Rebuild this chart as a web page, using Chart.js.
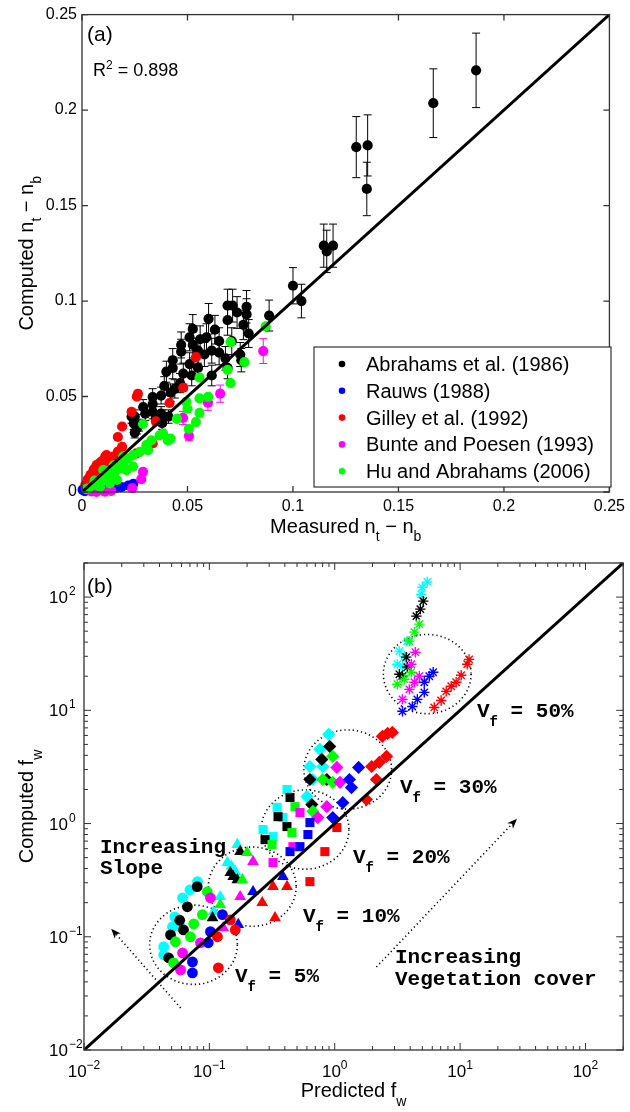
<!DOCTYPE html>
<html>
<head>
<meta charset="utf-8">
<script src="https://cdn.jsdelivr.net/npm/chart.js@4/dist/chart.umd.min.js"></script>
<style>
  html, body { margin: 0; padding: 0; background: #fff; }
  #wrap { position: relative; width: 630px; height: 1112px; }
  canvas { position: absolute; left: 0; }
  #chartA { top: 0; }
  #chartB { top: 545px; }
</style>
</head>
<body>
<div id="wrap">
  <canvas id="chartA" width="630" height="545"></canvas>
  <canvas id="chartB" width="630" height="567"></canvas>
</div>
<script>
// ---------- panel (a): computed vs measured n_t - n_b ----------
const abrahams = [ // [measured, computed, error]
  [0.1868, 0.2208, 0.0195], [0.1665, 0.2036, 0.0180], [0.1354, 0.1815, 0.0160],
  [0.1300, 0.1806, 0.0160], [0.1350, 0.1587, 0.0140], [0.1190, 0.1290, 0.0113],
  [0.1160, 0.1260, 0.0111], [0.1146, 0.1290, 0.0113], [0.1040, 0.1000, 0.0088],
  [0.1000, 0.1080, 0.0095], [0.0887, 0.0924, 0.0081], [0.0690, 0.0976, 0.0086],
  [0.0714, 0.0976, 0.0086], [0.0780, 0.0970, 0.0085], [0.0780, 0.0930, 0.0082],
  [0.0735, 0.0940, 0.0083], [0.0690, 0.0900, 0.0079], [0.0600, 0.0907, 0.0080],
  [0.0630, 0.0850, 0.0075], [0.0590, 0.0810, 0.0071], [0.0650, 0.0790, 0.0070],
  [0.0710, 0.0790, 0.0070], [0.0790, 0.0830, 0.0073], [0.0765, 0.0875, 0.0077],
  [0.0525, 0.0854, 0.0075], [0.0510, 0.0810, 0.0071], [0.0560, 0.0800, 0.0070],
  [0.0525, 0.0770, 0.0068], [0.0550, 0.0740, 0.0065], [0.0580, 0.0720, 0.0063],
  [0.0615, 0.0740, 0.0065], [0.0650, 0.0730, 0.0064], [0.0680, 0.0700, 0.0062],
  [0.0750, 0.0720, 0.0063], [0.0755, 0.0690, 0.0061], [0.0690, 0.0650, 0.0057],
  [0.0615, 0.0610, 0.0054], [0.0510, 0.0670, 0.0059], [0.0480, 0.0620, 0.0055],
  [0.0520, 0.0610, 0.0054], [0.0550, 0.0650, 0.0057], [0.0470, 0.0770, 0.0068],
  [0.0470, 0.0735, 0.0065], [0.0430, 0.0690, 0.0061], [0.0430, 0.0650, 0.0057],
  [0.0400, 0.0630, 0.0055], [0.0465, 0.0570, 0.0050], [0.0440, 0.0540, 0.0048],
  [0.0390, 0.0555, 0.0049], [0.0420, 0.0520, 0.0046], [0.0375, 0.0505, 0.0044],
  [0.0335, 0.0497, 0.0044], [0.0335, 0.0460, 0.0040], [0.0290, 0.0445, 0.0039],
  [0.0300, 0.0410, 0.0036], [0.0335, 0.0420, 0.0037], [0.0350, 0.0385, 0.0034],
  [0.0380, 0.0360, 0.0032], [0.0380, 0.0395, 0.0035], [0.0250, 0.0395, 0.0035],
  [0.0235, 0.0395, 0.0035], [0.0245, 0.0360, 0.0032], [0.0260, 0.0333, 0.0029],
  [0.0270, 0.0350, 0.0031], [0.0250, 0.0310, 0.0027], [0.0375, 0.0411, 0.0036],
  [0.0410, 0.0395, 0.0035]
];
const rauws = [
  [0.0243, 0.0043], [0.0219, 0.0034], [0.0187, 0.0026], [0.0163, 0.0022],
  [0.0139, 0.0017], [0.0115, 0.0014], [0.0092, 0.0012], [0.0068, 0.0010],
  [0.0045, 0.0009], [0.0014, 0.0005], [0.0007, 0.0009], [0.0003, 0.0012]
];
const gilley = [
  [0.0540, 0.0706], [0.0480, 0.0546], [0.0415, 0.0466], [0.0265, 0.0514],
  [0.0260, 0.0500], [0.0235, 0.0420], [0.0190, 0.0343], [0.0350, 0.0370],
  [0.0170, 0.0288], [0.0190, 0.0237], [0.0170, 0.0211], [0.0116, 0.0193],
  [0.0110, 0.0186], [0.0093, 0.0160], [0.0069, 0.0141], [0.0055, 0.0117],
  [0.0040, 0.0090], [0.0027, 0.0066], [0.0016, 0.0039], [0.0149, 0.0186],
  [0.0335, 0.0254], [0.0258, 0.0202], [0.0149, 0.0160], [0.0085, 0.0117],
  [0.0085, 0.0152], [0.0134, 0.0134], [0.0062, 0.0081], [0.0048, 0.0064],
  [0.0033, 0.0047], [0.0116, 0.0160], [0.0100, 0.0134], [0.0073, 0.0108]
];
const bunte = [ // [measured, computed, error]
  [0.0859, 0.0738, 0.0065], [0.0655, 0.0515, 0.0045], [0.0597, 0.0468, 0.0040],
  [0.0479, 0.0388, 0.0034], [0.0507, 0.0294, 0.0026], [0.0289, 0.0105, 0],
  [0.0281, 0.0067, 0], [0.0238, 0.0020, 0], [0.0139, 0.0006, 0],
  [0.0108, 0.0002, 0], [0.0068, 0.0001, 0], [0.0045, 0.0003, 0]
];
const huAbrahams = [
  [0.0871, 0.0867], [0.0770, 0.0680], [0.0704, 0.0785], [0.0690, 0.0640],
  [0.0704, 0.0570], [0.0557, 0.0599], [0.0598, 0.0498], [0.0557, 0.0490],
  [0.0494, 0.0472], [0.0500, 0.0436], [0.0557, 0.0414], [0.0540, 0.0366],
  [0.0506, 0.0331], [0.0420, 0.0279], [0.0407, 0.0270], [0.0384, 0.0306],
  [0.0368, 0.0297], [0.0329, 0.0270], [0.0305, 0.0245], [0.0289, 0.0356],
  [0.0274, 0.0210], [0.0242, 0.0193], [0.0218, 0.0176], [0.0195, 0.0150],
  [0.0179, 0.0124], [0.0156, 0.0106], [0.0132, 0.0089], [0.0101, 0.0071],
  [0.0077, 0.0054], [0.0054, 0.0037], [0.0031, 0.0019], [0.0165, 0.0063],
  [0.0132, 0.0045], [0.0085, 0.0028], [0.0242, 0.0133], [0.0211, 0.0115],
  [0.0313, 0.0219], [0.0195, 0.0185], [0.0101, 0.0115], [0.0450, 0.0383],
  [0.0150, 0.0140], [0.0120, 0.0110], [0.0060, 0.0060], [0.0020, 0.0015]
];
const ticksA = [0, 0.05, 0.1, 0.15, 0.2, 0.25];
const rSquared = '0.898';

// ---------- panel (b): computed vs predicted f_w ----------
// rows: [predicted, computed, slope class 0..5]
const vf5 = [
  [0.0432, 0.0817, 5], [0.0432, 0.0693, 5], [0.0508, 0.1225, 5], [0.0589, 0.1225, 5],
  [0.0611, 0.221, 5], [0.0804, 0.307, 5], [0.0700, 0.260, 5], [0.0530, 0.150, 5],
  [0.049, 0.104, 4], [0.0473, 0.0652, 4], [0.0622, 0.115, 4], [0.0668, 0.184, 4],
  [0.080, 0.277, 4], [0.0580, 0.140, 4],
  [0.0537, 0.0904, 3], [0.0518, 0.0589, 3], [0.0706, 0.100, 3], [0.0879, 0.157, 3],
  [0.0964, 0.250, 3], [0.0750, 0.130, 3],
  [0.0611, 0.0721, 2], [0.0589, 0.051, 2], [0.0849, 0.0885, 2], [0.102, 0.221, 2],
  [0.0733, 0.060, 1], [0.0733, 0.048, 1], [0.098, 0.0885, 1], [0.102, 0.111, 1], [0.127, 0.157, 1],
  [0.118, 0.0532, 0], [0.116, 0.100, 0], [0.161, 0.115, 0], [0.147, 0.141, 0]
];
const vf10 = [
  [0.167, 0.652, 5], [0.139, 0.452, 5], [0.161, 0.376, 5], [0.122, 0.226, 5], [0.108, 0.166, 5], [0.150, 0.420, 5],
  [0.176, 0.565, 4], [0.147, 0.368, 4], [0.167, 0.319, 4], [0.106, 0.147, 4], [0.155, 0.340, 4],
  [0.200, 0.553, 3], [0.183, 0.319, 3], [0.122, 0.192, 3],
  [0.223, 0.461, 2], [0.176, 0.226, 2], [0.129, 0.120, 2],
  [0.223, 0.250, 1], [0.170, 0.128, 1], [0.386, 0.340, 1],
  [0.264, 0.200, 0], [0.334, 0.147, 0], [0.416, 0.277, 0], [0.322, 0.277, 0]
];
const vf20 = [
  [0.416, 2.00, 5], [0.347, 1.39, 5], [0.386, 1.13, 5], [0.268, 0.885, 5], [0.322, 0.767, 5],
  [0.440, 1.70, 4], [0.353, 1.15, 4], [0.416, 0.94, 4], [0.278, 0.721, 4],
  [0.482, 1.41, 3], [0.456, 0.832, 3], [0.316, 0.652, 3],
  [0.528, 1.25, 2], [0.464, 0.625, 2], [0.322, 0.452, 2],
  [0.634, 1.02, 1], [0.611, 0.80, 1], [0.528, 0.625, 1], [0.440, 0.565, 1],
  [0.834, 0.565, 0], [1.04, 0.922, 0], [0.634, 0.307, 0]
];
const vf30 = [
  [0.896, 6.14, 5], [0.760, 4.52, 5], [0.634, 3.19, 5], [0.803, 3.19, 5], [0.669, 2.45, 5], [0.600, 1.73, 5],
  [0.912, 4.80, 4], [0.789, 3.68, 4], [0.634, 2.45, 4], [0.865, 2.45, 4], [0.656, 1.47, 4],
  [0.964, 3.92, 3], [0.803, 2.45, 3], [0.964, 2.31, 3], [0.669, 1.28, 3],
  [1.04, 3.13, 2], [1.10, 2.31, 2], [0.865, 1.41, 2], [0.733, 1.13, 2],
  [1.55, 3.13, 1], [1.31, 2.45, 1], [1.36, 2.08, 1], [1.16, 1.53, 1], [0.964, 1.13, 1],
  [2.88, 6.38, 0], [2.64, 6.25, 0], [2.40, 5.89, 0], [2.59, 3.92, 0], [2.27, 3.47, 0],
  [1.97, 3.19, 0], [2.15, 2.45, 0], [1.79, 1.63, 0]
];
const vf50 = [
  [5.47, 135.8, 5], [4.99, 122, 5], [4.90, 106, 5], [3.79, 40.8, 5], [3.28, 33.3, 5],
  [3.60, 30.1, 5], [3.16, 25.5, 5], [3.47, 24.5, 5],
  [5.08, 92.2, 4], [4.82, 78.3, 4], [4.48, 67.9, 4], [3.72, 29.5, 4], [3.79, 24.0, 4],
  [3.28, 20.8, 4], [3.47, 20.0, 4],
  [4.73, 57.7, 3], [4.32, 49.0, 3], [3.94, 40.8, 3], [4.08, 21.7, 3], [3.60, 18.8, 3], [3.16, 17.0, 3],
  [4.40, 32.6, 2], [4.08, 25.5, 2], [4.73, 20.0, 2], [4.32, 17.7, 2], [3.94, 15.3, 2], [3.47, 12.5, 2],
  [6.10, 21.7, 1], [5.68, 20.0, 1], [5.18, 17.7, 1], [5.18, 14.4, 1], [4.56, 12.5, 1],
  [4.16, 10.8, 1], [3.47, 9.8, 1],
  [11.8, 28.2, 0], [11.4, 25.5, 0], [10.2, 20.4, 0], [9.3, 17.7, 0], [8.5, 16.3, 0],
  [7.75, 14.7, 0], [7.06, 12.2, 0], [6.22, 10.6, 0]
];
const coverLabels = ['5%', '10%', '20%', '30%', '50%'];
const decadesB = [-2, -1, 0, 1, 2];

// ---------- styling ----------
const SANS = 'Liberation Sans, Arial, sans-serif';
const MONO = 'Liberation Mono, Courier New, monospace';
const slopeColors = ['#ff0000', '#0000ff', '#ff00ff', '#00ff00', '#000000', '#00ffff'];
const coverMarkers = ['circle', 'triangle', 'rect', 'rectRot', 'star'];
const markerRadius = { circle: 5.4, triangle: 6.8, rect: 6.4, rectRot: 6.6, star: 5.2 };

// text with sub/superscripts: parts = [[text, -1 sub | 0 | 1 sup], ...]
function drawRich(ctx, parts, x, y, o) {
  ctx.save();
  ctx.translate(x, y);
  if (o.rotate) ctx.rotate(o.rotate);
  ctx.textBaseline = 'alphabetic';
  ctx.textAlign = 'left';
  ctx.fillStyle = '#000';
  let total = 0;
  const widths = parts.map(([t, k]) => {
    ctx.font = k ? o.small : o.font;
    const w = ctx.measureText(t).width;
    total += w;
    return w;
  });
  let cx = o.align === 'center' ? -total / 2 : o.align === 'right' ? -total : 0;
  parts.forEach(([t, k], i) => {
    ctx.font = k ? o.small : o.font;
    ctx.fillText(t, cx, k < 0 ? o.sub : k > 0 ? -o.sup : 0);
    cx += widths[i];
  });
  ctx.restore();
}

// ---------- chart (a) ----------
const seriesA = [
  { label: 'Abrahams et al. (1986)', color: '#000000', rows: abrahams },
  { label: 'Rauws (1988)', color: '#0000ff', rows: rauws },
  { label: 'Gilley et al. (1992)', color: '#ff0000', rows: gilley },
  { label: 'Bunte and Poesen (1993)', color: '#ff00ff', rows: bunte },
  { label: 'Hu and Abrahams (2006)', color: '#00ff00', rows: huAbrahams }
];

const datasetsA = [{
  type: 'line',
  label: '1:1',
  data: [{ x: 0, y: 0 }, { x: 0.25, y: 0.25 }],
  borderColor: '#000',
  borderWidth: 3,
  pointRadius: 0,
  order: 0
}].concat(seriesA.map((s, i) => ({
  label: s.label,
  data: s.rows.map(r => ({ x: r[0], y: r[1] })),
  errors: s.rows.map(r => r[2] || 0),
  backgroundColor: s.color,
  borderColor: s.color,
  borderWidth: 0,
  pointRadius: 5.1,
  clip: false,
  order: seriesA.length - i
})));

const errorBars = {
  id: 'errorBars',
  beforeDatasetsDraw(chart) {
    const { ctx, scales: { x, y } } = chart;
    ctx.save();
    ctx.lineWidth = 1;
    chart.data.datasets.forEach(ds => {
      if (!ds.errors) return;
      ctx.strokeStyle = ds.borderColor;
      ds.data.forEach((p, i) => {
        const e = ds.errors[i];
        if (!e) return;
        const px = x.getPixelForValue(p.x);
        const top = y.getPixelForValue(p.y + e);
        const bot = y.getPixelForValue(p.y - e);
        ctx.beginPath();
        ctx.moveTo(px, top); ctx.lineTo(px, bot);
        ctx.moveTo(px - 4, top); ctx.lineTo(px + 4, top);
        ctx.moveTo(px - 4, bot); ctx.lineTo(px + 4, bot);
        ctx.stroke();
      });
    });
    ctx.restore();
  }
};

const decorA = {
  id: 'decorA',
  afterDraw(chart) {
    const { ctx, chartArea: a, scales: { x, y } } = chart;
    ctx.save();
    ctx.strokeStyle = '#333';
    ctx.lineWidth = 1.3;
    ctx.strokeRect(a.left, a.top, a.right - a.left, a.bottom - a.top);
    ctx.beginPath();
    ticksA.forEach(v => {
      const px = x.getPixelForValue(v), py = y.getPixelForValue(v);
      ctx.moveTo(px, a.bottom); ctx.lineTo(px, a.bottom - 6);
      ctx.moveTo(px, a.top); ctx.lineTo(px, a.top + 6);
      ctx.moveTo(a.left, py); ctx.lineTo(a.left + 6, py);
      ctx.moveTo(a.right, py); ctx.lineTo(a.right - 6, py);
    });
    ctx.stroke();

    ctx.fillStyle = '#000';
    ctx.font = '21px ' + SANS;
    ctx.fillText('(a)', 87, 41);
    drawRich(ctx, [['R', 0], ['2', 1], [' = ' + rSquared, 0]], 93, 76,
      { font: '18px ' + SANS, small: '12px ' + SANS, sup: 7 });

    const label = [['n', 0], ['t', -1], [' \u2212 n', 0], ['b', -1]];
    drawRich(ctx, [['Measured ', 0]].concat(label), (a.left + a.right) / 2, 533,
      { font: '20px ' + SANS, small: '14px ' + SANS, sub: 8, align: 'center' });
    drawRich(ctx, [['Computed ', 0]].concat(label), 33, (a.top + a.bottom) / 2,
      { font: '20px ' + SANS, small: '14px ' + SANS, sub: 8, align: 'center', rotate: -Math.PI / 2 });

    // legend box
    ctx.fillStyle = '#fff';
    ctx.fillRect(314, 347, 297, 140);
    ctx.strokeStyle = '#333';
    ctx.lineWidth = 1.2;
    ctx.strokeRect(314, 347, 297, 140);
    ctx.font = '20px ' + SANS;
    seriesA.forEach((s, i) => {
      const base = 371 + i * 26.8;
      ctx.fillStyle = s.color;
      ctx.beginPath();
      ctx.arc(342, base - 7, 3.3, 0, Math.PI * 2);
      ctx.fill();
      ctx.fillStyle = '#000';
      ctx.fillText(s.label, 366, base);
    });
    ctx.restore();
  }
};

new Chart(document.getElementById('chartA'), {
  type: 'scatter',
  data: { datasets: datasetsA },
  options: {
    responsive: false,
    animation: false,
    events: [],
    layout: { padding: { left: 0, right: 16, top: 13, bottom: 0 } },
    plugins: { legend: { display: false }, tooltip: { enabled: false } },
    scales: {
      x: {
        type: 'linear', min: 0, max: 0.25,
        grid: { display: false, drawTicks: false },
        border: { display: false },
        ticks: {
          stepSize: 0.05, padding: 5, color: '#000', maxRotation: 0, autoSkip: false,
          font: { family: SANS, size: 16 },
          callback: v => String(+v.toFixed(2))
        },
        afterFit: s => { s.height = 53; }
      },
      y: {
        type: 'linear', min: 0, max: 0.25,
        grid: { display: false, drawTicks: false },
        border: { display: false },
        ticks: {
          stepSize: 0.05, padding: 5, color: '#000', autoSkip: false,
          font: { family: SANS, size: 16 },
          callback: v => String(+v.toFixed(2))
        },
        afterFit: s => { s.width = 82; }
      }
    }
  },
  plugins: [errorBars, decorA]
});

// ---------- chart (b) ----------
const coverGroups = [vf5, vf10, vf20, vf30, vf50];
const datasetsB = [{
  type: 'line',
  label: '1:1',
  data: [{ x: 0.01, y: 0.01 }, { x: 200, y: 200 }],
  borderColor: '#000',
  borderWidth: 3,
  pointRadius: 0,
  order: 0
}];
coverGroups.forEach((rows, g) => {
  const marker = coverMarkers[g];
  slopeColors.forEach((color, s) => {
    const pts = rows.filter(r => r[2] === s).map(r => ({ x: r[0], y: r[1] }));
    if (!pts.length) return;
    datasetsB.push({
      label: 'Vf ' + coverLabels[g] + ' / slope ' + (s + 1),
      data: pts,
      pointStyle: marker,
      pointRadius: markerRadius[marker],
      backgroundColor: color,
      borderColor: color,
      borderWidth: marker === 'star' ? 1.4 : 0,
      clip: false,
      order: 1
    });
  });
});

// dotted rings around each cover group: centre [predicted, computed]
const ringCentres = [[0.0747, 0.085], [0.22, 0.277], [0.58, 0.885], [1.27, 3.0], [5.47, 20.9]];
const RING_DECADES = 0.35;
const slopeArrow = [[0.059, 0.0235], [0.0173, 0.111]];
const coverArrow = [[2.15, 0.054], [27, 1.04]];

function dottedArrow(ctx, x, y, seg) {
  const x0 = x.getPixelForValue(seg[0][0]), y0 = y.getPixelForValue(seg[0][1]);
  const x1 = x.getPixelForValue(seg[1][0]), y1 = y.getPixelForValue(seg[1][1]);
  ctx.save();
  ctx.setLineDash([1.2, 3]);
  ctx.lineWidth = 1.6;
  ctx.beginPath();
  ctx.moveTo(x0, y0); ctx.lineTo(x1, y1);
  ctx.stroke();
  ctx.setLineDash([]);
  const ang = Math.atan2(y1 - y0, x1 - x0);
  ctx.translate(x1, y1);
  ctx.rotate(ang);
  ctx.beginPath();
  ctx.moveTo(4, 0); ctx.lineTo(-6, -4); ctx.lineTo(-3, 0); ctx.lineTo(-6, 4);
  ctx.closePath();
  ctx.fill();
  ctx.restore();
}

const ringsB = {
  id: 'ringsB',
  beforeDatasetsDraw(chart) {
    const { ctx, scales: { x, y } } = chart;
    const f = Math.pow(10, RING_DECADES);
    ctx.save();
    ctx.strokeStyle = '#000';
    ctx.fillStyle = '#000';
    ctx.lineWidth = 1.6;
    ctx.setLineDash([1.2, 3]);
    ringCentres.forEach(([cx, cy]) => {
      const px = x.getPixelForValue(cx), py = y.getPixelForValue(cy);
      const rx = x.getPixelForValue(cx * f) - px;
      const ry = py - y.getPixelForValue(cy * f);
      ctx.beginPath();
      ctx.ellipse(px, py, rx, ry, 0, 0, Math.PI * 2);
      ctx.stroke();
    });
    ctx.setLineDash([]);
    dottedArrow(ctx, x, y, slopeArrow);
    dottedArrow(ctx, x, y, coverArrow);
    ctx.restore();
  }
};

const decorB = {
  id: 'decorB',
  afterDraw(chart) {
    const { ctx, chartArea: a, scales: { x, y } } = chart;
    ctx.save();
    ctx.strokeStyle = '#333';
    ctx.lineWidth = 1.3;
    ctx.strokeRect(a.left, a.top, a.right - a.left, a.bottom - a.top);
    ctx.lineWidth = 1;
    ctx.beginPath();
    decadesB.forEach(k => {
      for (let m = 1; m <= 9; m++) {
        const v = m * Math.pow(10, k);
        if (v > 200) break;
        const len = m === 1 ? 7 : 4;
        const px = x.getPixelForValue(v), py = y.getPixelForValue(v);
        ctx.moveTo(px, a.bottom); ctx.lineTo(px, a.bottom - len);
        ctx.moveTo(px, a.top); ctx.lineTo(px, a.top + len);
        ctx.moveTo(a.left, py); ctx.lineTo(a.left + len, py);
        ctx.moveTo(a.right, py); ctx.lineTo(a.right - len, py);
      }
    });
    ctx.stroke();

    // decade labels
    const tf = { font: '17px ' + SANS, small: '12px ' + SANS, sup: 8 };
    decadesB.forEach(k => {
      const exp = k < 0 ? '\u2212' + (-k) : String(k);
      const px = x.getPixelForValue(Math.pow(10, k));
      drawRich(ctx, [['10', 0], [exp, 1]], px, a.bottom + 27, Object.assign({ align: 'center' }, tf));
      const py = y.getPixelForValue(Math.pow(10, k));
      drawRich(ctx, [['10', 0]], 68, py + 6, Object.assign({ align: 'right' }, tf));
      drawRich(ctx, [[exp, 1]], 69, py + 6, tf);
    });

    ctx.fillStyle = '#000';
    ctx.font = '21px ' + SANS;
    ctx.fillText('(b)', 87, 48);
    drawRich(ctx, [['Predicted f', 0], ['w', -1]], (a.left + a.right) / 2, 552,
      { font: '20px ' + SANS, small: '14px ' + SANS, sub: 9, align: 'center' });
    drawRich(ctx, [['Computed f', 0], ['w', -1]], 33, (a.top + a.bottom) / 2,
      { font: '20px ' + SANS, small: '14px ' + SANS, sub: 9, align: 'center', rotate: -Math.PI / 2 });

    // annotations
    const mono = { font: 'bold 21px ' + MONO, small: 'bold 14px ' + MONO, sub: 9 };
    const vfPos = [[235, 437], [303, 377], [353, 318], [400, 248], [477, 172]];
    coverLabels.forEach((c, i) => {
      drawRich(ctx, [['V', 0], ['f', -1], [' = ' + c, 0]], vfPos[i][0], vfPos[i][1], mono);
    });
    ctx.font = mono.font;
    ctx.fillText('Increasing', 100, 308);
    ctx.fillText('Slope', 100, 329);
    ctx.fillText('Increasing', 395, 418);
    ctx.fillText('Vegetation cover', 395, 440);
    ctx.restore();
  }
};

new Chart(document.getElementById('chartB'), {
  type: 'scatter',
  data: { datasets: datasetsB },
  options: {
    responsive: false,
    animation: false,
    events: [],
    layout: { padding: { left: 0, right: 4, top: 18, bottom: 0 } },
    plugins: { legend: { display: false }, tooltip: { enabled: false } },
    scales: {
      x: {
        type: 'logarithmic', min: 0.01, max: 200,
        grid: { display: false, drawTicks: false },
        border: { display: false },
        ticks: { display: false },
        afterFit: s => { s.height = 62; }
      },
      y: {
        type: 'logarithmic', min: 0.01, max: 200,
        grid: { display: false, drawTicks: false },
        border: { display: false },
        ticks: { display: false },
        afterFit: s => { s.width = 84; }
      }
    }
  },
  plugins: [ringsB, decorB]
});
</script>
</body>
</html>
